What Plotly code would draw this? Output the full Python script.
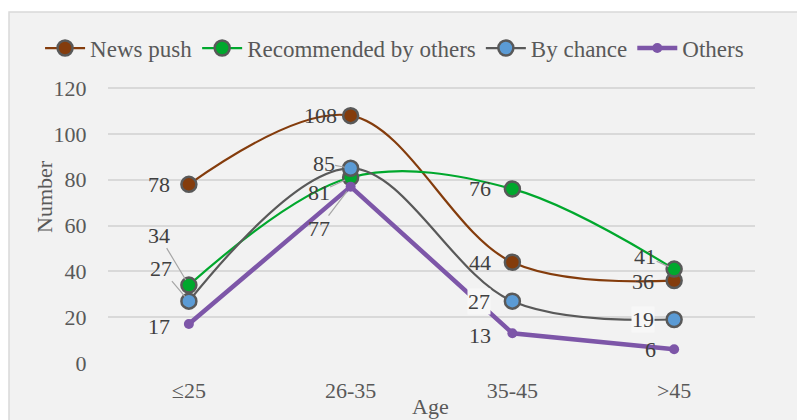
import plotly.graph_objects as go

categories = ["≤25", "26-35", "35-45", ">45"]
news_push = [78, 108, 44, 36]
recommended = [34, 81, 76, 41]
by_chance = [27, 85, 27, 19]
others = [17, 77, 13, 6]
series_names = ["News push", "Recommended by others", "By chance", "Others"]
y_ticks = [0, 20, 40, 60, 80, 100, 120]

FONT = "Liberation Serif"
TXT = "#595959"
LBL = "#404040"

# label offsets (pixels) relative to each point, and whether a leader line is shown
label_offsets = {
    "News push": [(-30, 0, False), (-30, 0, False), (-32, 0, False), (-31, 1, False)],
    "Recommended by others": [(-30, -50, True), (-32, 15, True), (-32, 0, False), (-29, -13, True)],
    "By chance": [(-28, -33, True), (-27, -5, True), (-33, 0, False), (-31, 0, False)],
    "Others": [(-30, 2, False), (-32, 42, True), (-32, 2, False), (-24, 0, False)],
}

styles = {
    "News push": dict(line=dict(color="#843c0c", width=2.2, shape="spline", smoothing=1.0),
                      marker=dict(color="#843c0c", size=15, line=dict(color="#595959", width=2.5))),
    "Recommended by others": dict(line=dict(color="#00a82d", width=2.2, shape="spline", smoothing=1.0),
                                  marker=dict(color="#00a82d", size=15, line=dict(color="#595959", width=2.5))),
    "By chance": dict(line=dict(color="#595959", width=2.2, shape="spline", smoothing=1.0),
                      marker=dict(color="#5b9bd5", size=15, line=dict(color="#595959", width=2.5))),
    "Others": dict(line=dict(color="#7d56a8", width=4.5),
                   marker=dict(color="#7d56a8", size=10, line=dict(width=0))),
}

data = {"News push": news_push, "Recommended by others": recommended,
        "By chance": by_chance, "Others": others}

fig = go.Figure()
for name in series_names:
    fig.add_trace(go.Scatter(x=categories, y=data[name], name=name, mode="lines+markers",
                             **styles[name]))

annotations = []
for name in series_names:
    for i, (cat, val) in enumerate(zip(categories, data[name])):
        dx, dy, leader = label_offsets[name][i]
        bg = "rgba(0,0,0,0)"
        if name == "By chance" and i >= 2:
            bg = "#f7f7f7"
        annotations.append(dict(
            x=cat, y=val, xref="x", yref="y", text=str(val),
            showarrow=True, ax=dx, ay=dy, arrowhead=0, arrowwidth=1.2,
            arrowcolor="#a6a6a6" if leader else "rgba(0,0,0,0)", standoff=6,
            font=dict(family=FONT, size=22, color=LBL), bgcolor=bg, borderpad=0,
        ))

annotations.append(dict(text="Number", x=-0.099, y=0.605, xref="paper", yref="paper",
                        textangle=-90, showarrow=False, xanchor="center", yanchor="middle",
                        font=dict(family=FONT, size=22, color=TXT)))
annotations.append(dict(text="Age", x=0.499, y=-0.157, xref="paper", yref="paper",
                        showarrow=False, xanchor="center", yanchor="middle",
                        font=dict(family=FONT, size=22, color=TXT)))

fig.update_layout(
    width=797, height=420,
    margin=dict(l=108, r=42, t=87, b=57),
    paper_bgcolor="white",
    plot_bgcolor="rgba(0,0,0,0)",
    font=dict(family=FONT, size=22, color=TXT),
    showlegend=True,
    legend=dict(orientation="h", x=-0.105, xanchor="left", y=1.141, yanchor="middle",
                bgcolor="rgba(0,0,0,0)", font=dict(family=FONT, size=23, color=TXT),
                itemwidth=40, traceorder="normal"),
    annotations=annotations,
    shapes=[dict(type="rect", xref="paper", yref="paper", x0=-0.153, x1=1.2, y0=-0.4, y1=1.2717,
                 fillcolor="#f2f2f2", line=dict(color="#d9d9d9", width=1.5), layer="below")],
    xaxis=dict(range=[-0.5, 3.5], showgrid=False, zeroline=False, showline=False,
               ticks="outside", ticklen=8, tickcolor="rgba(0,0,0,0)",
               tickfont=dict(family=FONT, size=22, color=TXT)),
    yaxis=dict(range=[0, 120.5], tickvals=y_ticks, showgrid=True, gridcolor="#d9d9d9",
               gridwidth=1.5, zeroline=False, showline=False,
               ticks="outside", ticklen=16, tickcolor="rgba(0,0,0,0)",
               tickfont=dict(family=FONT, size=22, color=TXT)),
)

fig.write_html("out.html")
